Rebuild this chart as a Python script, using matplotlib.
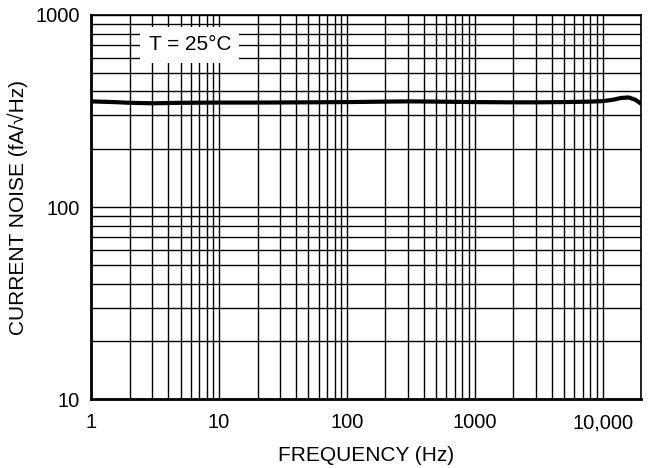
import matplotlib
matplotlib.use("Agg")
import matplotlib.pyplot as plt
from matplotlib.ticker import LogLocator, FixedLocator, NullFormatter

plt.rcParams['font.family'] = ['Liberation Sans', 'DejaVu Sans']

# data (Hz, fA/rtHz)
freq = [1, 1.5, 2, 3, 5, 10, 20, 50, 100, 200, 300, 500, 1000, 2000, 3000,
        5000, 8000, 10000, 12000, 14000, 16000, 18000, 20000]
noise = [355, 352, 349, 347, 349, 350, 350, 351, 352, 354, 355, 354, 352, 351, 351,
         352, 354, 356, 362, 370, 372, 362, 345]

x_ticks = [1, 10, 100, 1000, 10000]
x_labels = ["1", "10", "100", "1000", "10,000"]
y_ticks = [10, 100, 1000]
y_labels = ["10", "100", "1000"]

fig = plt.figure(figsize=(6.61, 4.68), dpi=100)
ax = fig.add_axes([0.138, 0.147, 0.832, 0.821])

ax.set_xscale('log')
ax.set_yscale('log')
ax.set_xlim(1, 20000)
ax.set_ylim(10, 1000)

ax.xaxis.set_major_locator(FixedLocator(x_ticks))
ax.set_xticklabels(x_labels)
ax.xaxis.set_minor_locator(LogLocator(base=10, subs=range(2, 10), numticks=20))
ax.xaxis.set_minor_formatter(NullFormatter())
ax.yaxis.set_major_locator(FixedLocator(y_ticks))
ax.set_yticklabels(y_labels)
ax.yaxis.set_minor_locator(LogLocator(base=10, subs=range(2, 10), numticks=20))
ax.yaxis.set_minor_formatter(NullFormatter())

ax.grid(which='both', color='black', linewidth=1.0)
ax.tick_params(which='both', length=0, labelsize=14.5)
ax.tick_params(axis='x', pad=10)
ax.tick_params(axis='y', pad=8)

for side in ['left', 'bottom']:
    ax.spines[side].set_linewidth(2.0)
for side in ['top', 'right']:
    ax.spines[side].set_linewidth(1.2)

ax.plot(freq, noise, color='black', linewidth=3.0, solid_capstyle='butt', zorder=3)

ax.text(5.9, 700, "T = 25\u00b0C", fontsize=15, ha='center', va='center',
        bbox=dict(facecolor='white', edgecolor='none', pad=6), zorder=4)

ax.set_xlabel("FREQUENCY (Hz)", fontsize=15, va='center')
ax.xaxis.set_label_coords(0.5, -0.146)
ax.set_ylabel("CURRENT NOISE (fA/\u221aHz)", fontsize=15, va='center')
ax.yaxis.set_label_coords(-0.133, 0.5)

fig.savefig("out.png", dpi=100)
